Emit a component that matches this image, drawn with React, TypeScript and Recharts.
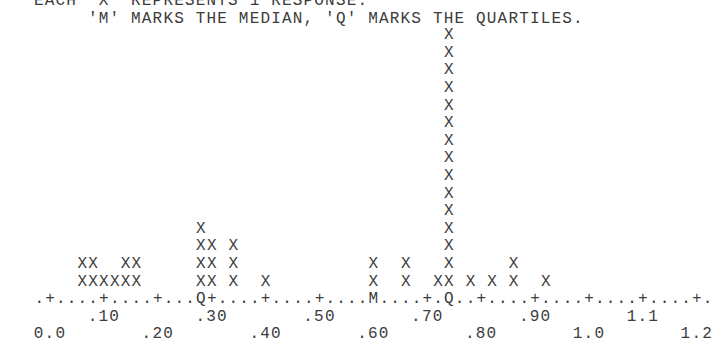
import { Scatter, ScatterChart, XAxis, YAxis } from 'recharts';

// dot plot of response values, one 'X' per response
const VALUES = [0.06, 0.08, 0.1, 0.12, 0.14, 0.16, 0.28, 0.3, 0.34, 0.4, 0.6, 0.66, 0.72, 0.74, 0.78, 0.82, 0.86, 0.92];
const COUNTS = [2, 2, 1, 1, 2, 2, 4, 3, 3, 1, 2, 2, 1, 15, 1, 1, 2, 1];

const MEDIAN = 0.6;
const QUARTILES = [0.28, 0.74];

const TICK_VALUES = [0, 0.1, 0.2, 0.3, 0.4, 0.5, 0.6, 0.7, 0.8, 0.9, 1.0, 1.1, 1.2];
const TICK_LABELS = ['0.0', '.10', '.20', '.30', '.40', '.50', '.60', '.70', '.80', '.90', '1.0', '1.1', '1.2'];

const HEADER = ["EACH 'X' REPRESENTS 1 RESPONSE.", "     'M' MARKS THE MEDIAN, 'Q' MARKS THE QUARTILES."];

const FONT = '"Liberation Mono", "Courier New", monospace';
const INK = '#3c3c3c';
const STEP = 0.02; // one character column on the text axis
const ROW = 17.6;

// one point per response, stacked upward in its column
const points = VALUES.flatMap((v, i) =>
  Array.from({ length: COUNTS[i] }, (_, k) => ({ x: v, y: k + 1 })),
);

// every character column of the axis line, from one column left of 0.0 to one right of 1.2
const axisColumns = Array.from({ length: 63 }, (_, c) => Math.round((c - 1) * STEP * 100) / 100);

const near = (a: number, b: number) => Math.abs(a - b) < 1e-6;

function XMark(props: any) {
  const { cx, cy } = props;
  return (
    <text x={cx} y={cy} textAnchor="middle" dominantBaseline="central" fontFamily={FONT} fontSize={16} fill={INK}>
      X
    </text>
  );
}

function AxisChar(props: any) {
  const { x, y, payload } = props;
  const v = payload.value as number;
  const major = TICK_VALUES.findIndex((t) => near(t, v));
  let ch = major >= 0 ? '+' : '.';
  if (near(v, MEDIAN)) ch = 'M';
  if (QUARTILES.some((q) => near(q, v))) ch = 'Q';
  return (
    <g>
      <text x={x} y={y} textAnchor="middle" dominantBaseline="central" fontFamily={FONT} fontSize={16} fill={INK}>
        {ch}
      </text>
      {major >= 0 && (
        <text
          x={x}
          y={y + (major % 2 === 1 ? ROW : ROW * 2)}
          textAnchor="middle"
          dominantBaseline="central"
          fontFamily={FONT}
          fontSize={16}
          letterSpacing={1.2}
          fill={INK}
        >
          {TICK_LABELS[major]}
        </text>
      )}
    </g>
  );
}

export default function App() {
  return (
    <div style={{ position: 'fixed', left: 0, top: 0, width: 717, height: 350, background: '#fff', overflow: 'hidden' }}>
      {HEADER.map((line, i) => (
        <div
          key={i}
          style={{
            position: 'absolute',
            left: 34,
            top: -6.6 + i * ROW,
            fontFamily: FONT,
            fontSize: 16,
            lineHeight: `${ROW}px`,
            letterSpacing: 1.18,
            whiteSpace: 'pre',
            color: INK,
          }}
        >
          {line}
        </div>
      ))}
      <ScatterChart width={717} height={350} margin={{ top: 0, right: 9.4, bottom: 0, left: 17.66 }}>
        <XAxis
          type="number"
          dataKey="x"
          domain={[-0.06, 1.22]}
          ticks={axisColumns}
          interval={0}
          axisLine={false}
          tickLine={false}
          tickSize={0}
          tickMargin={0}
          height={50.8}
          tick={<AxisChar />}
        />
        <YAxis type="number" dataKey="y" domain={[0, 17]} hide />
        <Scatter data={points} shape={<XMark />} isAnimationActive={false} />
      </ScatterChart>
    </div>
  );
}
